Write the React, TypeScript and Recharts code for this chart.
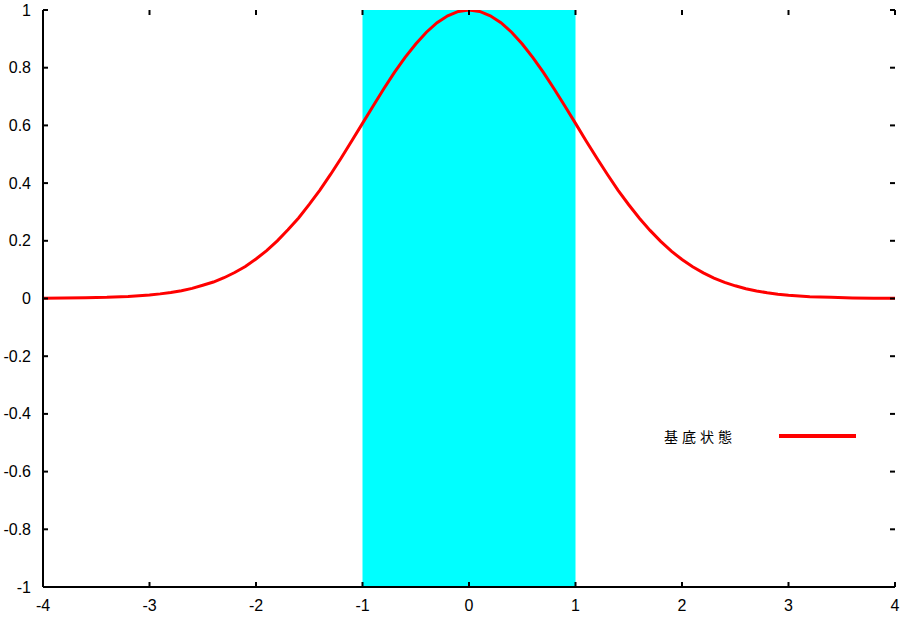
import React from 'react';
import { LineChart, Line, XAxis, YAxis, ReferenceArea } from 'recharts';

// values
const xs = [
  -4, -3.8, -3.6, -3.4, -3.2, -3, -2.9, -2.8, -2.7, -2.6, -2.5, -2.4, -2.3, -2.2, -2.1, -2,
  -1.9, -1.8, -1.7, -1.6, -1.5, -1.4, -1.3, -1.2, -1.1, -1, -0.9, -0.8, -0.7, -0.6, -0.5,
  -0.4, -0.3, -0.2, -0.1, 0, 0.1, 0.2, 0.3, 0.4, 0.5, 0.6, 0.7, 0.8, 0.9, 1, 1.1, 1.2, 1.3,
  1.4, 1.5, 1.6, 1.7, 1.8, 1.9, 2, 2.1, 2.2, 2.3, 2.4, 2.5, 2.6, 2.7, 2.8, 2.9, 3, 3.2, 3.4,
  3.6, 3.8, 4,
];
const groundState = [
  0.001, 0.002, 0.003, 0.004, 0.007, 0.012, 0.016, 0.021, 0.027, 0.035, 0.046, 0.057, 0.072,
  0.09, 0.111, 0.137, 0.166, 0.2, 0.238, 0.279, 0.326, 0.376, 0.43, 0.487, 0.547, 0.607,
  0.667, 0.727, 0.784, 0.836, 0.882, 0.923, 0.956, 0.98, 0.995, 1, 0.995, 0.98, 0.956, 0.923,
  0.882, 0.835, 0.783, 0.726, 0.667, 0.607, 0.546, 0.487, 0.43, 0.375, 0.325, 0.278, 0.236,
  0.198, 0.164, 0.135, 0.11, 0.089, 0.071, 0.056, 0.044, 0.034, 0.026, 0.02, 0.015, 0.011,
  0.006, 0.004, 0.002, 0.001, 0.001,
];
const xTicks = [-4, -3, -2, -1, 0, 1, 2, 3, 4];
const yTicks = [-1, -0.8, -0.6, -0.4, -0.2, 0, 0.2, 0.4, 0.6, 0.8, 1];
const bandFrom = -1;
const bandTo = 1;
const seriesName = '基底状態';

const data = xs.map((x, i) => ({ x, psi: groundState[i] }));

const FONT = '"Liberation Sans", Arial, sans-serif';
const TOP = 10;
const BOTTOM = 587;
const LEFT = 43;
const RIGHT = 895;

function BottomTick({ x, payload }: any) {
  return (
    <g>
      <line x1={x} x2={x} y1={BOTTOM} y2={BOTTOM - 5} stroke="#000" strokeWidth={2} />
      <line x1={x} x2={x} y1={TOP} y2={TOP + 5} stroke="#000" strokeWidth={2} />
      <text x={x} y={611} textAnchor="middle" fontFamily={FONT} fontSize={16} fill="#000">
        {payload.value}
      </text>
    </g>
  );
}

function LeftTick({ y, payload }: any) {
  return (
    <g>
      <line x1={LEFT} x2={LEFT + 5} y1={y} y2={y} stroke="#000" strokeWidth={2} />
      <line x1={RIGHT} x2={RIGHT - 5} y1={y} y2={y} stroke="#000" strokeWidth={2} />
      <text x={31} y={y + 5.5} textAnchor="end" fontFamily={FONT} fontSize={16} fill="#000">
        {payload.value}
      </text>
    </g>
  );
}

export default function App() {
  return (
    <div style={{ position: 'absolute', left: 0, top: 0, width: 905, height: 621, background: '#fff' }}>
      <LineChart width={905} height={621} data={data} margin={{ top: TOP, right: 10, bottom: 0, left: 0 }}>
        <ReferenceArea
          x1={bandFrom}
          x2={bandTo}
          y1={-1}
          y2={1}
          fill="#00ffff"
          fillOpacity={1}
          stroke="none"
        />
        <XAxis
          dataKey="x"
          type="number"
          domain={[-4, 4]}
          ticks={xTicks}
          height={34}
          allowDataOverflow
          axisLine={{ stroke: '#000', strokeWidth: 2 }}
          tickLine={false}
          tick={<BottomTick />}
        />
        <XAxis
          xAxisId="top"
          orientation="top"
          type="number"
          domain={[-4, 4]}
          ticks={[]}
          height={0}
          axisLine={{ stroke: '#000', strokeWidth: 2 }}
          tickLine={false}
          tick={false}
        />
        <YAxis
          type="number"
          domain={[-1, 1]}
          ticks={yTicks}
          width={43}
          allowDataOverflow
          axisLine={{ stroke: '#000', strokeWidth: 2 }}
          tickLine={false}
          tick={<LeftTick />}
        />
        <YAxis
          yAxisId="right"
          orientation="right"
          type="number"
          domain={[-1, 1]}
          ticks={[]}
          width={0}
          axisLine={{ stroke: '#000', strokeWidth: 2 }}
          tickLine={false}
          tick={false}
        />
        <Line
          type="linear"
          dataKey="psi"
          name={seriesName}
          stroke="#ff0000"
          strokeWidth={3}
          dot={false}
          activeDot={false}
          isAnimationActive={false}
        />
      </LineChart>
      <div
        style={{
          position: 'absolute',
          left: 664,
          top: 426,
          display: 'flex',
          alignItems: 'center',
          height: 20,
        }}
      >
        <span
          style={{
            fontFamily: '"Noto Sans CJK JP", sans-serif',
            fontSize: 14,
            letterSpacing: 4,
            color: '#000',
            width: 115,
            lineHeight: '20px',
          }}
        >
          {seriesName}
        </span>
        <span style={{ display: 'inline-block', width: 77, height: 4, background: '#ff0000' }} />
      </div>
    </div>
  );
}
